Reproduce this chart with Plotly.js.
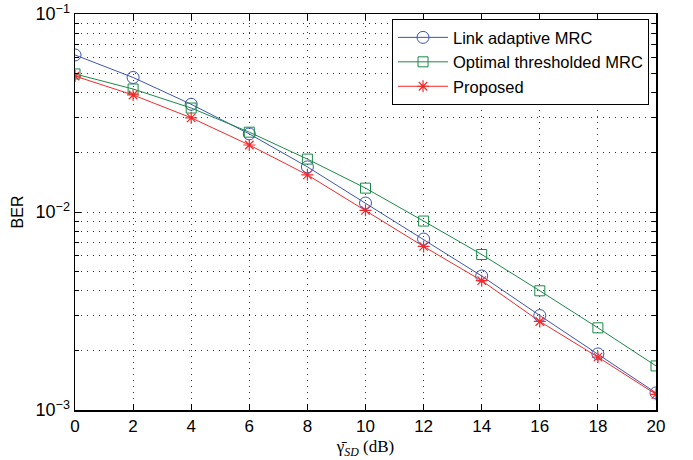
<!DOCTYPE html>
<html><head><meta charset="utf-8">
<script src="https://cdn.plot.ly/plotly-3.0.1.min.js"></script>
<style>html,body{margin:0;padding:0;background:#fff;}#chart{width:693px;height:460px;}</style>
</head><body><div id="chart"></div>
<script>
const snr = [0, 2, 4, 6, 8, 10, 12, 14, 16, 18, 20];
const linkAdaptive = [0.0621, 0.0478, 0.0350, 0.0248, 0.0169, 0.0111, 0.0073, 0.00475, 0.0030, 0.00192, 0.00122];
const optimalThresh = [0.0498, 0.0418, 0.0335, 0.0253, 0.0185, 0.0132, 0.0090, 0.0061, 0.0040, 0.0026, 0.00167];
const proposed = [0.0486, 0.0390, 0.0299, 0.0218, 0.0154, 0.0102, 0.0067, 0.0045, 0.0028, 0.00185, 0.0012];
const seriesNames = ['Link adaptive MRC', 'Optimal thresholded MRC', 'Proposed'];
const xTicks = [0, 2, 4, 6, 8, 10, 12, 14, 16, 18, 20];
const yMajor = [0.001, 0.01, 0.1];
const yMajorText = ['10<sup>−3</sup>', '10<sup>−2</sup>', '10<sup>−1</sup>'];

// minor log-grid values built from decades
const yMinor = [];
[0.001, 0.01].forEach(d => { for (let k = 2; k <= 9; k++) yMinor.push(+(d * k).toPrecision(3)); });

const colors = ['#3b55b5', '#1b8a48', '#f42a2a'];
const traces = [
  {x: snr, y: linkAdaptive, name: seriesNames[0], mode: 'lines+markers', line: {color: colors[0], width: 1}, marker: {symbol: 'circle-open', size: 12, color: colors[0], line: {width: 1}}},
  {x: snr, y: optimalThresh, name: seriesNames[1], mode: 'lines+markers', line: {color: colors[1], width: 1}, marker: {symbol: 'square-open', size: 10, color: colors[1], line: {width: 1}}},
  {x: snr, y: proposed, name: seriesNames[2], mode: 'lines+markers', line: {color: colors[2], width: 1}, marker: {symbol: 'asterisk-open', size: 10, color: colors[2], line: {width: 1.2}}},
  {x: [null], y: [null], yaxis: 'y2', showlegend: false, hoverinfo: 'skip', mode: 'lines'}
];

const gridDash = '1px,5px';
const layout = {
  width: 693, height: 460,
  margin: {l: 75, r: 37, t: 14, b: 50},
  paper_bgcolor: '#fff', plot_bgcolor: '#fff',
  font: {family: 'Liberation Sans, Arial, sans-serif', size: 16, color: '#000'},
  xaxis: {
    range: [0, 20], tickvals: xTicks, ticktext: xTicks.map(String),
    ticks: 'inside', ticklen: 6, tickcolor: '#000',
    showline: true, linecolor: '#000', linewidth: 1.5, mirror: 'ticks',
    showgrid: true, gridcolor: '#333', griddash: gridDash, gridwidth: 1,
    zeroline: false, tickfont: {size: 17},
    title: {text: 'γ̄<sub><i>SD</i></sub> (dB)', font: {family: 'Liberation Serif, Times New Roman, serif', size: 17}, standoff: 5}
  },
  yaxis: {
    type: 'log', range: [-3, -1], tickvals: yMajor, ticktext: yMajorText,
    ticks: 'inside', ticklen: 6, tickcolor: '#000',
    showline: true, linecolor: '#000', linewidth: 1.5, mirror: 'ticks',
    showgrid: true, gridcolor: '#333', griddash: gridDash, gridwidth: 1,
    zeroline: false, tickfont: {size: 18},
    title: {text: 'BER', font: {size: 16}, standoff: 8}
  },
  yaxis2: {
    type: 'log', range: [-3, -1], overlaying: 'y', side: 'left',
    tickvals: yMinor, showticklabels: false,
    ticks: 'inside', ticklen: 4, tickcolor: '#000', mirror: 'ticks',
    showline: false, showgrid: true, gridcolor: '#333', griddash: gridDash, gridwidth: 1,
    zeroline: false
  },
  legend: {
    x: 0.988, y: 0.987, xanchor: 'right', yanchor: 'top',
    bgcolor: '#fff', bordercolor: '#000', borderwidth: 1,
    font: {size: 16.5}, tracegroupgap: 0, itemwidth: 50
  },
  showlegend: true
};

Plotly.newPlot('chart', traces, layout, {displayModeBar: false, staticPlot: true});
</script></body></html>
